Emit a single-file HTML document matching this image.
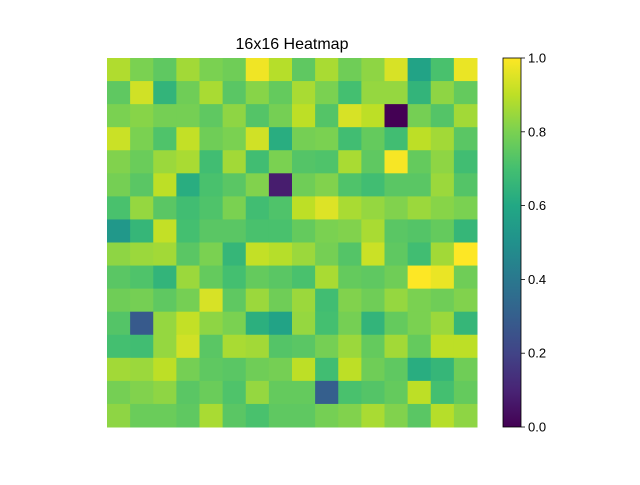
<!DOCTYPE html>
<html><head><meta charset="utf-8"><style>
body{margin:0;background:#fff;}
svg text{font-family:"Liberation Sans","DejaVu Sans",sans-serif;}
</style></head><body>
<svg id="chart" width="640" height="480" xmlns="http://www.w3.org/2000/svg">
<defs><linearGradient id="vir" x1="0" y1="1" x2="0" y2="0"></linearGradient></defs>
<text x="292" y="49" text-anchor="middle" font-size="16" fill="#000">16x16 Heatmap</text>
<g id="cells"></g>
<g id="cbar"></g>
</svg>
<script>
const values = [
[0.88,0.80,0.75,0.86,0.80,0.78,0.98,0.89,0.75,0.87,0.78,0.83,0.94,0.58,0.71,0.97],
[0.75,0.93,0.65,0.78,0.87,0.74,0.82,0.76,0.87,0.80,0.70,0.84,0.84,0.65,0.83,0.76],
[0.80,0.82,0.79,0.79,0.75,0.83,0.73,0.79,0.90,0.73,0.94,0.90,0.00,0.79,0.73,0.86],
[0.92,0.80,0.72,0.91,0.78,0.80,0.93,0.62,0.79,0.80,0.69,0.76,0.69,0.90,0.86,0.74],
[0.81,0.77,0.85,0.87,0.69,0.86,0.69,0.80,0.73,0.72,0.87,0.75,0.99,0.76,0.83,0.69],
[0.79,0.74,0.90,0.62,0.71,0.74,0.81,0.08,0.78,0.81,0.72,0.69,0.74,0.74,0.85,0.73],
[0.71,0.84,0.74,0.69,0.72,0.80,0.69,0.72,0.90,0.95,0.87,0.84,0.81,0.85,0.82,0.80],
[0.53,0.66,0.91,0.70,0.74,0.74,0.71,0.71,0.76,0.80,0.81,0.87,0.74,0.73,0.76,0.66],
[0.83,0.85,0.86,0.74,0.80,0.66,0.91,0.89,0.85,0.79,0.73,0.92,0.75,0.69,0.86,1.00],
[0.74,0.72,0.65,0.85,0.76,0.70,0.76,0.74,0.71,0.87,0.76,0.75,0.78,1.00,0.97,0.78],
[0.78,0.79,0.75,0.79,0.94,0.75,0.85,0.78,0.85,0.69,0.81,0.78,0.84,0.80,0.78,0.81],
[0.73,0.28,0.84,0.91,0.83,0.80,0.63,0.58,0.84,0.70,0.79,0.65,0.76,0.80,0.85,0.66],
[0.70,0.69,0.84,0.93,0.74,0.87,0.86,0.73,0.74,0.79,0.85,0.76,0.86,0.76,0.90,0.90],
[0.86,0.85,0.90,0.79,0.75,0.74,0.78,0.79,0.90,0.69,0.90,0.78,0.75,0.62,0.66,0.78],
[0.79,0.81,0.83,0.74,0.77,0.72,0.84,0.76,0.76,0.30,0.71,0.73,0.76,0.90,0.70,0.76],
[0.83,0.77,0.77,0.75,0.87,0.74,0.71,0.75,0.75,0.79,0.81,0.87,0.81,0.74,0.89,0.83]
];
const tickLabels = ["0.0","0.2","0.4","0.6","0.8","1.0"];
const tickValues = [0,0.2,0.4,0.6,0.8,1.0];

const stops=[[0,"#440154"],[0.1,"#482475"],[0.2,"#414487"],[0.3,"#355f8d"],[0.4,"#2a788e"],[0.5,"#21918c"],[0.6,"#22a884"],[0.7,"#44bf70"],[0.8,"#7ad151"],[0.9,"#bddf26"],[1,"#fde725"]];
function hex(h){return [1,3,5].map(i=>parseInt(h.substr(i,2),16));}
function viridis(v){v=Math.max(0,Math.min(1,v));for(let i=1;i<stops.length;i++){if(v<=stops[i][0]){const a=stops[i-1],b=stops[i];const t=(v-a[0])/(b[0]-a[0]);const ca=hex(a[1]),cb=hex(b[1]);return "rgb("+ca.map((c,k)=>Math.round(c+(cb[k]-c)*t)).join(",")+")";}}return stops[stops.length-1][1];}
const NS="http://www.w3.org/2000/svg";
const X0=107,Y0=58,W=370,H=369;
const n=values.length,m=values[0].length;
const xs=j=>X0+j*W/m, ys=i=>Y0+i*H/n;
const g=document.getElementById('cells');
values.forEach((row,i)=>row.forEach((v,j)=>{
  const r=document.createElementNS(NS,'rect');
  r.setAttribute('x',xs(j));r.setAttribute('y',ys(i));
  r.setAttribute('width',W/m+0.5);r.setAttribute('height',H/n+0.5);
  r.setAttribute('fill',viridis(v));
  
  
  g.appendChild(r);
}));
const grad=document.getElementById('vir');
stops.forEach(s=>{const st=document.createElementNS(NS,'stop');st.setAttribute('offset',s[0]);st.setAttribute('stop-color',s[1]);grad.appendChild(st);});
const cb=document.getElementById('cbar');
const CX=503,CW=18,CY0=58,CH=369;
const cy=v=>CY0+CH*(1-v);
const cr=document.createElementNS(NS,'rect');
cr.setAttribute('x',CX);cr.setAttribute('y',CY0);cr.setAttribute('width',CW);cr.setAttribute('height',CH);
cr.setAttribute('fill','url(#vir)');cr.setAttribute('stroke','#000');cr.setAttribute('stroke-width','0.8');


cb.appendChild(cr);
tickValues.forEach((v,k)=>{
  const l=document.createElementNS(NS,'line');
  l.setAttribute('x1',CX+CW);l.setAttribute('x2',CX+CW+4);l.setAttribute('y1',cy(v));l.setAttribute('y2',cy(v));
  l.setAttribute('stroke','#000');l.setAttribute('stroke-width','0.8');
  
  
  cb.appendChild(l);
  const t=document.createElementNS(NS,'text');
  t.setAttribute('x',CX+CW+7);t.setAttribute('y',cy(v)+4.5);t.setAttribute('font-size','13');
  t.textContent=tickLabels[k];
  
  
  cb.appendChild(t);
});
</script>
</body></html>
